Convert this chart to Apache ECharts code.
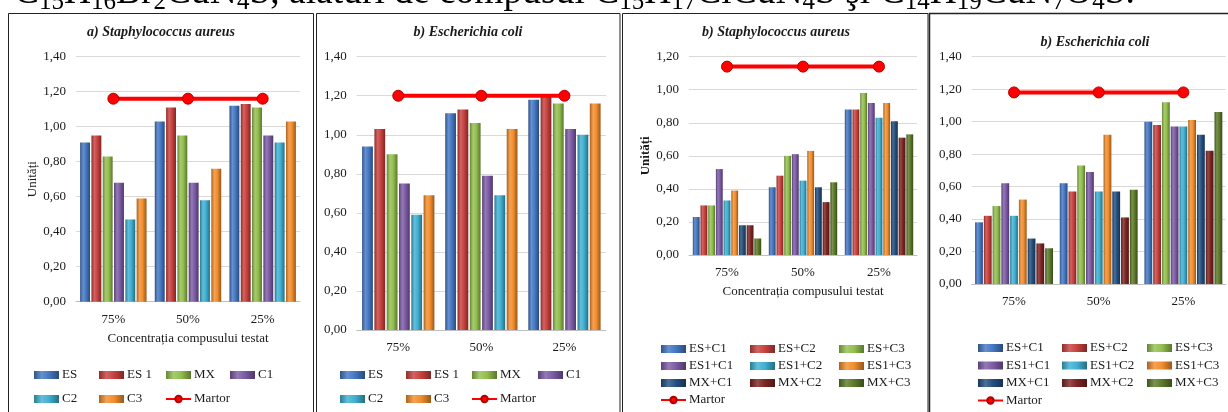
<!DOCTYPE html>
<html>
<head>
<meta charset="utf-8">
<script src="https://cdn.jsdelivr.net/npm/echarts@6/dist/echarts.min.js"></script>
<style>
  html, body { margin: 0; padding: 0; background: #fff; }
  #chart { width: 1228px; height: 412px; }
</style>
</head>
<body>
<div id="chart"></div>
<script>
// Concentration categories shared by all four panels
const categories = ['75%', '50%', '25%'];

// Single compounds
const singleNames = ['ES', 'ES 1', 'MX', 'C1', 'C2', 'C3'];
// a) Staphylococcus aureus – single compounds
const aureusSingle = [
  [0.91, 1.03, 1.12],
  [0.95, 1.11, 1.13],
  [0.83, 0.95, 1.11],
  [0.68, 0.68, 0.95],
  [0.47, 0.58, 0.91],
  [0.59, 0.76, 1.03]
];
const aureusSingleMartor = [1.16, 1.16, 1.16];
// b) Escherichia coli – single compounds
const coliSingle = [
  [0.94, 1.11, 1.18],
  [1.03, 1.13, 1.20],
  [0.90, 1.06, 1.16],
  [0.75, 0.79, 1.03],
  [0.59, 0.69, 1.00],
  [0.69, 1.03, 1.16]
];
const coliSingleMartor = [1.20, 1.20, 1.20];

// Combinations
const comboNames = ['ES+C1', 'ES+C2', 'ES+C3', 'ES1+C1', 'ES1+C2', 'ES1+C3', 'MX+C1', 'MX+C2', 'MX+C3'];
// b) Staphylococcus aureus – combinations
const aureusCombo = [
  [0.23, 0.41, 0.88],
  [0.30, 0.48, 0.88],
  [0.30, 0.60, 0.98],
  [0.52, 0.61, 0.92],
  [0.33, 0.45, 0.83],
  [0.39, 0.63, 0.92],
  [0.18, 0.41, 0.81],
  [0.18, 0.32, 0.71],
  [0.10, 0.44, 0.73]
];
const aureusComboMartor = [1.14, 1.14, 1.14];
// b) Escherichia coli – combinations
const coliCombo = [
  [0.38, 0.62, 1.00],
  [0.42, 0.57, 0.98],
  [0.48, 0.73, 1.12],
  [0.62, 0.69, 0.97],
  [0.42, 0.57, 0.97],
  [0.52, 0.92, 1.01],
  [0.28, 0.57, 0.92],
  [0.25, 0.41, 0.82],
  [0.22, 0.58, 1.06]
];
const coliComboMartor = [1.18, 1.18, 1.18];

const singleColors = ['#4478c4', '#c8413e', '#93bf4e', '#7d5ba6', '#3fb0d2', '#f38e2d'];
const comboColors = ['#4478c4', '#c8413e', '#93bf4e', '#7d5ba6', '#3fb0d2', '#f38e2d', '#234f80', '#7d2522', '#5c7a2a'];

const SERIF = '"Liberation Serif", "Times New Roman", serif';
const TEXT = '#1a1a1a';

function shade(hex, amt) {
  const n = parseInt(hex.slice(1), 16);
  let r = (n >> 16) & 255, g = (n >> 8) & 255, b = n & 255;
  const f = c => amt >= 0 ? Math.round(c + (255 - c) * amt) : Math.round(c * (1 + amt));
  r = f(r); g = f(g); b = f(b);
  return 'rgb(' + r + ',' + g + ',' + b + ')';
}

// Cylinder-like shading for the bars
function barFill(hex) {
  return new echarts.graphic.LinearGradient(0, 0, 1, 0, [
    { offset: 0, color: shade(hex, -0.3) },
    { offset: 0.3, color: shade(hex, 0.18) },
    { offset: 0.6, color: hex },
    { offset: 1, color: shade(hex, -0.38) }
  ]);
}

const panels = [
  { grid: { left: 76, top: 56.7, width: 224, height: 245 }, max: 1.4, names: singleNames, values: aureusSingle, martor: aureusSingleMartor, colors: singleColors, catGap: '11%', gap: '14%', yName: 'Unități', yBold: false, xName: 'Concentrația compusului testat' },
  { grid: { left: 356.7, top: 56.7, width: 249.3, height: 273.3 }, max: 1.4, names: singleNames, values: coliSingle, martor: coliSingleMartor, colors: singleColors, catGap: '13%', gap: '14%', yName: '', xName: '' },
  { grid: { left: 689, top: 56.7, width: 228, height: 198.3 }, max: 1.2, names: comboNames, values: aureusCombo, martor: aureusComboMartor, colors: comboColors, catGap: '10%', gap: '12%', yName: 'Unități', yBold: true, xName: 'Concentrația compusului testat' },
  { grid: { left: 971.7, top: 56.7, width: 254, height: 227.3 }, max: 1.4, names: comboNames, values: coliCombo, martor: coliComboMartor, colors: comboColors, catGap: '8%', gap: '12%', yName: '', xName: '' }
];

const grids = [], xAxes = [], yAxes = [], series = [];
panels.forEach((p, i) => {
  grids.push(p.grid);
  xAxes.push({
    type: 'category', gridIndex: i, data: categories,
    axisLine: { lineStyle: { color: '#bfbfbf', width: 1 } },
    axisTick: { show: false },
    axisLabel: { fontFamily: SERIF, fontSize: 13, color: TEXT, margin: 11 },
    name: p.xName, nameLocation: 'middle', nameGap: 30,
    nameTextStyle: { fontFamily: SERIF, fontSize: 13, color: TEXT }
  });
  yAxes.push({
    type: 'value', gridIndex: i, min: 0, max: p.max, interval: 0.2,
    axisLine: { show: false }, axisTick: { show: false },
    splitLine: { lineStyle: { color: '#d9d9d9', width: 1 } },
    axisLabel: { fontFamily: SERIF, fontSize: 13, color: TEXT, margin: 10,
      formatter: v => v.toFixed(2).replace('.', ',') },
    name: p.yName, nameLocation: 'middle', nameGap: 35, nameRotate: 90,
    nameTextStyle: { fontFamily: SERIF, fontSize: 13, color: TEXT, fontWeight: p.yBold ? 'bold' : 'normal' }
  });
  p.names.forEach((n, k) => {
    series.push({
      type: 'bar', name: n, xAxisIndex: i, yAxisIndex: i, data: p.values[k],
      barCategoryGap: p.catGap, barGap: p.gap,
      itemStyle: { color: barFill(p.colors[k]) },
      emphasis: { disabled: true }
    });
  });
  series.push({
    type: 'line', name: 'Martor', xAxisIndex: i, yAxisIndex: i, data: p.martor,
    z: 5, symbol: 'circle', symbolSize: 11,
    lineStyle: { color: '#ff0000', width: 4 },
    itemStyle: { color: '#ff0000', borderColor: '#b40000', borderWidth: 1 },
    emphasis: { disabled: true }
  });
});

// Legend columns: [left, top, itemGap, names]
const legendCols = [
  [34, 367, 8, ['ES', 'C2']],
  [99, 367, 8, ['ES 1', 'C3']],
  [165, 367, 8, ['MX', 'Martor']],
  [230, 367, 8, ['C1']],
  [340, 367, 8, ['ES', 'C2']],
  [406, 367, 8, ['ES 1', 'C3']],
  [471, 367, 8, ['MX', 'Martor']],
  [538, 367, 8, ['C1']],
  [660, 341, 1, ['ES+C1', 'ES1+C1', 'MX+C1', 'Martor']],
  [750, 341, 1, ['ES+C2', 'ES1+C2', 'MX+C2']],
  [839, 341, 1, ['ES+C3', 'ES1+C3', 'MX+C3']],
  [977, 340, 1.5, ['ES+C1', 'ES1+C1', 'MX+C1', 'Martor']],
  [1062, 340, 1.5, ['ES+C2', 'ES1+C2', 'MX+C2']],
  [1147, 340, 1.5, ['ES+C3', 'ES1+C3', 'MX+C3']]
];
const legends = legendCols.map(c => ({
  orient: 'vertical', left: c[0], top: c[1], itemGap: c[2],
  itemWidth: 25, itemHeight: 8, selectedMode: false, padding: 0,
  data: c[3].map(n => n === 'Martor' ? { name: n } : { name: n, icon: 'rect' }),
  textStyle: { fontFamily: SERIF, fontSize: 13, color: TEXT, lineHeight: 16, padding: [0, 0, 0, -2] }
}));

// Panel titles
const titles = [
  ['a) Staphylococcus aureus', 161, 32],
  ['b) Escherichia coli', 468, 32],
  ['b) Staphylococcus aureus', 776, 32],
  ['b) Escherichia coli', 1095, 42]
];

// Heading line above the figures (its upper part runs off the top edge)
const heading = '{n|C}{s|15}{n|H}{s|16}{n|Br}{s|2}{n|CuN}{s|4}{n|S, alături de compusul C}{s|15}{n|H}{s|17}{n|ClCuN}{s|4}{n|S şi C}{s|14}{n|H}{s|19}{n|CuN}{s|7}{n|O}{s|4}{n|S.}';

const graphics = [
  { type: 'text', x: 14, y: -29, silent: true, style: {
      text: heading, fill: '#000', fontFamily: SERIF,
      rich: { n: { fontSize: 37.5, lineHeight: 44, fontFamily: SERIF }, s: { fontSize: 25, lineHeight: 27, verticalAlign: 'bottom', fontFamily: SERIF } }
  } },
  { type: 'rect', silent: true, shape: { x: 8.5, y: 13.5, width: 305, height: 420 }, style: { fill: null, stroke: '#222', lineWidth: 1 } },
  { type: 'rect', silent: true, shape: { x: 316.5, y: 13.5, width: 303.5, height: 420 }, style: { fill: null, stroke: '#222', lineWidth: 1 } },
  { type: 'rect', silent: true, shape: { x: 622.5, y: 13.5, width: 305.5, height: 420 }, style: { fill: null, stroke: '#222', lineWidth: 1 } },
  { type: 'rect', silent: true, shape: { x: 929.5, y: 13.5, width: 310, height: 420 }, style: { fill: null, stroke: '#222', lineWidth: 1.5 } }
].concat(titles.map(t => ({
  type: 'text', x: t[1], y: t[2], silent: true,
  style: { text: t[0], textAlign: 'center', textVerticalAlign: 'middle', fill: TEXT,
    font: 'italic bold 14px "Liberation Serif"' }
})));

const chart = echarts.init(document.getElementById('chart'), null, { renderer: 'canvas' });
chart.setOption({
  animation: false,
  backgroundColor: '#fff',
  grid: grids,
  xAxis: xAxes,
  yAxis: yAxes,
  legend: legends,
  series: series,
  graphic: graphics
});
</script>
</body>
</html>
